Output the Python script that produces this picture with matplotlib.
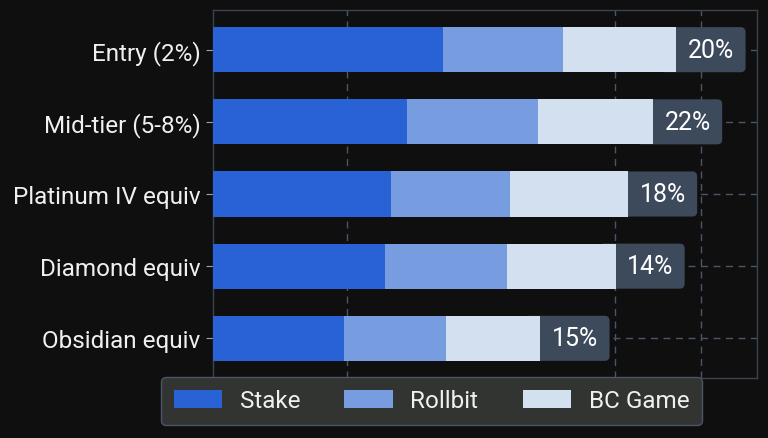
import matplotlib
matplotlib.use("Agg")
import matplotlib.pyplot as plt
from matplotlib.patches import FancyBboxPatch
import numpy as np

plt.rcParams['font.family'] = ['Roboto', 'DejaVu Sans']

categories = ["Entry (2%)", "Mid-tier (5-8%)", "Platinum IV equiv", "Diamond equiv", "Obsidian equiv"]
stake = [42.3, 35.7, 32.7, 31.6, 24.1]
rollbit = [22.1, 24.1, 21.9, 22.4, 18.8]
bcgame = [20.8, 21.1, 21.7, 20.0, 17.3]
labels = ["20%", "22%", "18%", "14%", "15%"]
grid_ticks = [24.6, 73.9, 89.7]

BG = "#0f0f0f"
C_STAKE = "#2862d4"
C_ROLL = "#779de0"
C_BC = "#d3e0f0"
C_BOX = "#3d4a5c"
C_GRID = "#4a5568"
C_SPINE = "#3a4350"

fig = plt.figure(figsize=(7.68, 4.39), dpi=100, facecolor=BG)
ax = fig.add_axes([213/768, 1-379/439, 544/768, 368/439], facecolor=BG)

y = np.arange(len(categories))
h = 0.625
s = np.array(stake); r = np.array(rollbit); b = np.array(bcgame)
b1 = ax.barh(y, s, height=h, color=C_STAKE, zorder=3, label="Stake")
b2 = ax.barh(y, r, left=s, height=h, color=C_ROLL, zorder=3, label="Rollbit")
b3 = ax.barh(y, b, left=s + r, height=h, color=C_BC, zorder=3, label="BC Game")

total = s + r + b
box_w = 12.7
px_x = 544 / 100.0
px_y = 368 / 5.1
rad = 5 / px_x
m_aspect = px_x / px_y
for yi, t, lab in zip(y, total, labels):
    p = FancyBboxPatch((t - 3, yi - h/2), box_w + 3, h,
                       boxstyle=f"round,pad=0,rounding_size={rad}",
                       mutation_aspect=m_aspect,
                       facecolor=C_BOX, edgecolor="none", zorder=2)
    ax.add_patch(p)
    ax.text(t + box_w/2, yi, lab, ha="center", va="center", color="white",
            fontsize=18, zorder=4)

ax.set_xlim(0, 100)
ax.set_ylim(4.55, -0.55)
ax.set_yticks(y)
ax.set_yticklabels(categories, color="#f0f0f0", fontsize=17.5)
ax.set_xticks(grid_ticks)
ax.tick_params(axis='x', length=0, labelbottom=False)
ax.tick_params(axis='y', length=5, color="#9aa0a8", pad=4)
ax.grid(True, color=C_GRID, linestyle=(0, (5, 4)), linewidth=1.0, zorder=0)
ax.set_axisbelow(True)
for sp in ax.spines.values():
    sp.set_color(C_SPINE)
    sp.set_linewidth(1.0)

leg = ax.legend(handles=[b1, b2, b3], labels=["Stake", "Rollbit", "BC Game"], ncol=3, loc="center",
                bbox_to_anchor=(431.5/768, 1-402/439), bbox_transform=fig.transFigure,
                fontsize=17.5, frameon=True, facecolor="#323432", edgecolor="#4a5565",
                labelcolor="#f0f0f0", handlelength=2.0, handleheight=0.77,
                handletextpad=0.72, columnspacing=1.82, borderpad=0.5,
                fancybox=True, framealpha=1.0)
leg.get_frame().set_linewidth(1.0)
leg.set_zorder(10)

fig.savefig("out.png", dpi=100, facecolor=BG)
